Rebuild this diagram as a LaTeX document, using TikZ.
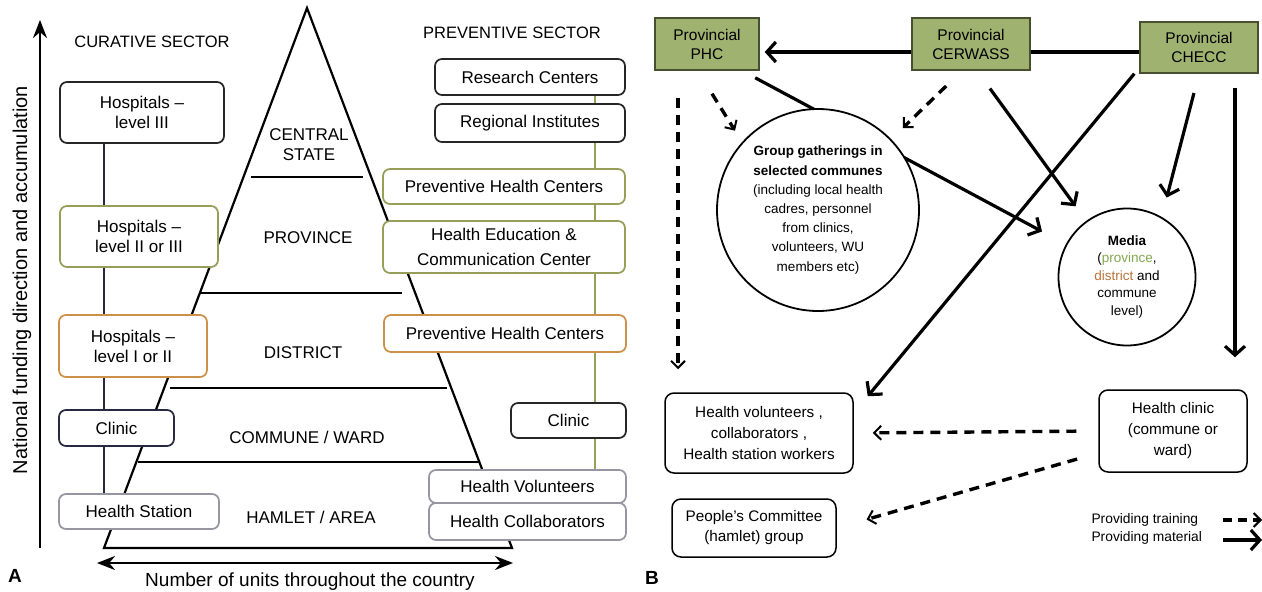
\documentclass[tikz,border=0pt]{standalone}
\usepackage{fontspec}
\setmainfont{Liberation Sans}
\usetikzlibrary{arrows.meta}

\definecolor{levgreen}{RGB}{150,158,88}
\definecolor{levorange}{RGB}{204,144,72}
\definecolor{levnavy}{RGB}{40,40,62}
\definecolor{levgray}{RGB}{150,150,162}
\definecolor{provfill}{RGB}{160,178,112}
\definecolor{provdraw}{RGB}{70,80,48}
\definecolor{medgreen}{RGB}{130,168,80}
\definecolor{medorange}{RGB}{186,116,58}

\begin{document}
\begin{tikzpicture}[x=1pt, y=-1pt,
  box/.style={draw=black!85, rounded corners=7pt, fill=white, line width=1.7pt,
    inner sep=0pt, align=center, font=\fontsize{17}{20}\selectfont},
  lvl/.style={align=center, font=\fontsize{17}{20}\selectfont},
  prov/.style={draw=provdraw, fill=provfill, line width=1.4pt, inner sep=0pt,
    align=center, font=\fontsize{15.5}{19}\selectfont},
  bbox/.style={draw, rounded corners=9pt, fill=white, line width=1.5pt,
    inner sep=0pt, align=center, font=\fontsize{15.3}{21}\selectfont},
  material/.style={line width=3.2pt, -{Straight Barb[length=9pt,width=20pt]}},
  training/.style={line width=3.4pt, dash pattern=on 10pt off 7pt,
    -{Straight Barb[length=7pt,width=14pt,line width=2pt]}},
  axis/.style={line width=2.6pt, -{Stealth[length=18pt,width=14pt]}}]
\useasboundingbox (0,0) rectangle (1262,592);

% Axes
\draw[axis] (40,548) -- (40,20);
\node[rotate=90, font=\fontsize{20}{24}\selectfont] (funding) at (22,280)
  {National funding direction and accumulation};
\draw[axis, {Stealth[length=18pt,width=14pt]}-{Stealth[length=18pt,width=14pt]}]
  (97,563) -- (513,563);
\node[font=\fontsize{19}{22}\selectfont] (units) at (310,582)
  {Number of units throughout the country};
\node[font=\bfseries\fontsize{19}{22}\selectfont] (labA) at (15,576) {A};

% Pyramid
\draw[line width=2.2pt, line join=miter] (307,8) -- (104,548) -- (512,548) -- cycle;
\draw[line width=2.2pt] (251,177) -- (363,177);
\draw[line width=2.2pt] (200,293) -- (402,293);
\draw[line width=2.2pt] (170,388) -- (447,388);
\draw[line width=2.2pt] (138,462) -- (480,462);

\node[lvl] (central) at (309,145) {CENTRAL\\STATE};
\node[lvl] (province) at (308,238) {PROVINCE};
\node[lvl] (district) at (303,353) {DISTRICT};
\node[lvl] (commune) at (307,437) {COMMUNE / WARD};
\node[lvl] (hamlet) at (311,517) {HAMLET / AREA};

% Curative sector
\node[font=\fontsize{16.5}{20}\selectfont] (curative) at (152,42) {CURATIVE SECTOR};
\node[box, minimum width=164, minimum height=61] (hosp3) at (142,112.5) {Hospitals --\\level III};
\node[box, draw=levgreen, minimum width=158, minimum height=61] (hosp23) at (139,236.5) {Hospitals --\\level II or III};
\node[box, draw=levorange, minimum width=148, minimum height=62] (hosp12) at (133,346) {Hospitals --\\level I or II};
\node[box, draw=levnavy, minimum width=115, minimum height=36] (clinicL) at (116.5,428) {Clinic};
\node[box, draw=levgray, minimum width=160, minimum height=35] (station) at (139,511.5) {Health Station};

\coordinate (lineL) at (104,0);
\draw[levnavy, line width=1.5pt] (hosp3.south -| lineL) -- (hosp23.north -| lineL);
\draw[levnavy, line width=1.5pt] (hosp23.south -| lineL) -- (hosp12.north -| lineL);
\draw[levnavy, line width=1.5pt] (hosp12.south -| lineL) -- (clinicL.north -| lineL);
\draw[levnavy, line width=1.5pt] (clinicL.south -| lineL) -- (station.north -| lineL);

% Preventive sector
\node[font=\fontsize{16.5}{20}\selectfont] (preventive) at (512,33) {PREVENTIVE SECTOR};
\node[box, minimum width=190, minimum height=36] (research) at (530,77) {Research Centers};
\node[box, minimum width=190, minimum height=38] (regional) at (530,123) {Regional Institutes};
\node[box, draw=levgreen, minimum width=242, minimum height=35] (prevP) at (504,186.5) {Preventive Health Centers};
\node[box, draw=levgreen, minimum width=242, minimum height=52, font=\fontsize{17}{25}\selectfont] (hecc) at (504,247) {Health Education \&\\Communication Center};
\node[box, draw=levorange, minimum width=242, minimum height=37] (prevD) at (505,333.5) {Preventive Health Centers};
\node[box, minimum width=115, minimum height=35] (clinicR) at (568.5,420.5) {Clinic};
\node[box, draw=levgray, minimum width=197, minimum height=33] (volun) at (527.5,486.5) {Health Volunteers};
\node[box, draw=levgray, minimum width=197, minimum height=37] (collab) at (527.5,521.5) {Health Collaborators};

\coordinate (lineR) at (595,0);
\draw[levgreen, line width=1.3pt] (research.south -| lineR) -- (regional.north -| lineR);
\draw[levgreen, line width=1.3pt] (regional.south -| lineR) -- (prevP.north -| lineR);
\draw[levgreen, line width=1.3pt] (prevP.south -| lineR) -- (hecc.north -| lineR);
\draw[levgreen, line width=1.3pt] (hecc.south -| lineR) -- (prevD.north -| lineR);
\draw[levgreen, line width=1.3pt] (prevD.south -| lineR) -- (clinicR.north -| lineR);
\draw[levgreen, line width=1.3pt] (clinicR.south -| lineR) -- (volun.north -| lineR);

% Panel B
\node[font=\bfseries\fontsize{19}{22}\selectfont] (labB) at (652,578) {B};
\node[prov, minimum width=104, minimum height=52] (phc) at (707,44) {Provincial\\PHC};
\node[prov, minimum width=118, minimum height=51] (checc) at (1199,47.5) {Provincial\\CHECC};
\node[circle, draw, line width=1.8pt, fill=white, minimum size=137, inner sep=0pt,
  align=center, font=\fontsize{13.5}{17.5}\selectfont] (media) at (1127,277)
  {\textbf{Media}\\(\textcolor{medgreen}{province},\\\textcolor{medorange}{district} and\\commune\\level)};

\draw[material] ([yshift=-4.5pt]checc.west) -- ([yshift=-4.5pt]checc.west -| phc.east)
  [shorten >=5pt];
\draw[material, shorten <=15pt, shorten >=27pt] ([xshift=35pt]phc.south) -- (media);

\node[prov, minimum width=118, minimum height=52] (cerwass) at (971,44) {Provincial\\CERWASS};
\node[circle, draw, line width=1.8pt, fill=white, minimum size=202, inner sep=0pt,
  align=center, font=\fontsize{13.5}{19.2}\selectfont] (group) at (818,210)
  {\textbf{Group gatherings in}\\\textbf{selected communes}\\(including local health\\cadres, personnel\\from clinics,\\volunteers, WU\\members etc)};

\node[bbox, minimum width=188, minimum height=80] (hv) at (759,433)
  {Health volunteers ,\\collaborators ,\\Health station workers};
\node[bbox, minimum width=164, minimum height=58, font=\fontsize{15.3}{20}\selectfont] (pc) at (754,528)
  {People's Committee\\(hamlet) group};
\node[bbox, minimum width=148, minimum height=82] (hc) at (1173,431)
  {Health clinic\\(commune or\\ward)};

% Training
\draw[training, shorten <=27pt, shorten >=23pt] ([xshift=-29pt]phc.south) -- ([xshift=-29pt]phc.south |- hv.north);
\draw[training] ([xshift=5pt, yshift=-23pt]phc.south) -- ([xshift=28pt, yshift=-60pt]phc.south);
\draw[training, shorten <=22pt, shorten >=16pt] ([xshift=-9pt]cerwass.south) -- (group);
\draw[training, shorten <=22pt, shorten >=19pt] (hc.west) -- (hv.east);
\draw[training, shorten <=22pt, shorten >=31pt] ([yshift=-22pt]hc.west) -- (pc.east);

% Material
\draw[material, shorten <=22pt, shorten >=18pt] ([xshift=6pt]cerwass.south) -- (media);
\draw[material, shorten <=20pt, shorten >=20pt] (checc.south) -- (media.60);
\draw[material] ([xshift=-5pt]checc.south west) -- ([xshift=14pt, yshift=-4pt]hv.north east);
\draw[material, shorten <=14pt, shorten >=32pt] ([xshift=36pt]checc.south) -- ([xshift=36pt]checc.south |- hc.north);

% Legend
\node[anchor=west, align=left, font=\fontsize{13.8}{18}\selectfont] (legend) at (1088,529)
  {Providing training\\Providing material};
\coordinate (trainA) at (1223,520);
\coordinate (trainB) at (1262,520);
\coordinate (matA) at (1223,540);
\coordinate (matB) at (1262,540);
\draw[training, dash pattern=on 9pt off 6pt] (trainA) -- (trainB);
\draw[material] (matA) -- (matB);
\end{tikzpicture}
\end{document}
